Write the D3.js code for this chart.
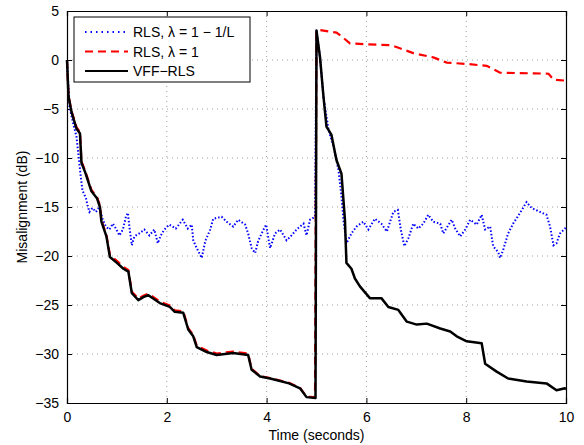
<!DOCTYPE html>
<html>
<head>
<meta charset="utf-8">
<script src="https://cdn.jsdelivr.net/npm/d3@7"></script>
<style>
  body { margin: 0; background: #fff; }
  text { font-family: "Liberation Sans", Arial, sans-serif; }
</style>
</head>
<body>
<div id="chart"></div>
<script>
// data: [time (s), misalignment (dB)]
var rlsForget = [[0,0],[0.05,-4.8],[0.13,-6.6],[0.19,-7.8],[0.28,-12.1],[0.31,-13.3],[0.38,-14.1],[0.41,-14.8],
  [0.45,-15.5],[0.51,-15.1],[0.58,-15.5],[0.65,-15.0],[0.71,-16.2],[0.78,-17.0],[0.85,-17.3],[0.92,-16.7],
  [0.98,-17.2],[1.05,-17.9],[1.12,-17.3],[1.18,-16.0],[1.22,-15.6],[1.25,-17.0],[1.30,-18.9],[1.35,-18.0],
  [1.45,-17.7],[1.55,-17.3],[1.65,-17.9],[1.75,-17.3],[1.82,-18.7],[1.88,-17.9],[1.95,-17.3],[2.05,-16.8],
  [2.18,-17.2],[2.32,-16.3],[2.42,-17.2],[2.50,-16.8],[2.53,-18.4],[2.60,-19.2],[2.70,-20.2],[2.77,-18.5],
  [2.87,-17.3],[2.93,-16.2],[3.10,-16.0],[3.20,-16.5],[3.33,-17.0],[3.43,-16.3],[3.57,-16.8],[3.63,-17.7],
  [3.70,-19.2],[3.77,-19.7],[3.83,-18.5],[3.90,-17.7],[3.99,-16.8],[4.07,-19.2],[4.17,-17.7],[4.27,-17.3],
  [4.40,-18.4],[4.50,-17.9],[4.60,-17.3],[4.74,-16.7],[4.80,-17.9],[4.87,-16.3],[4.97,-16.0],[5.0,3.0],
  [5.07,0.3],[5.14,-3.8],[5.24,-7.1],[5.34,-8.8],[5.44,-11.2],[5.50,-13.9],[5.54,-16.3],[5.60,-18.7],
  [5.70,-17.7],[5.80,-17.0],[5.94,-16.5],[6.04,-17.3],[6.17,-16.2],[6.30,-16.7],[6.41,-17.5],[6.54,-15.5],
  [6.63,-15.3],[6.69,-17.3],[6.76,-19.0],[6.84,-18.2],[6.94,-16.7],[7.04,-17.2],[7.14,-16.7],[7.24,-15.8],
  [7.34,-16.5],[7.48,-16.7],[7.54,-17.7],[7.71,-16.3],[7.78,-17.2],[7.88,-18.0],[7.98,-17.3],[8.08,-16.3],
  [8.21,-16.8],[8.31,-15.8],[8.38,-17.3],[8.48,-17.0],[8.54,-19.0],[8.64,-19.6],[8.68,-20.2],[8.74,-19.4],
  [8.84,-17.7],[8.94,-16.7],[9.08,-15.6],[9.21,-14.5],[9.31,-15.1],[9.48,-15.5],[9.61,-15.8],[9.68,-17.0],
  [9.75,-18.9],[9.81,-18.7],[9.88,-17.7],[9.98,-17.2],[10,-17.0]];

var rlsOne = [[0,0],[0.03,-3.6],[0.09,-5.2],[0.19,-6.85],[0.26,-7.35],[0.29,-10.35],[0.36,-11.25],[0.49,-13.25],
  [0.6,-13.95],[0.66,-14.85],[0.69,-16.35],[0.79,-17.85],[0.86,-19.9],[1.0,-20.5],[1.13,-21.1],[1.23,-21.45],
  [1.3,-23.65],[1.43,-24.35],[1.53,-24.05],[1.63,-23.85],[1.86,-24.65],[2.06,-25.05],[2.16,-25.55],[2.33,-25.65],
  [2.43,-27.35],[2.53,-28.05],[2.6,-29.15],[2.8,-29.65],[3.0,-29.95],[3.33,-29.75],[3.63,-29.95],[3.7,-31.5],
  [3.87,-32.25],[4.07,-32.45],[4.23,-32.65],[4.45,-32.95],[4.67,-33.45],[4.8,-34.35],[4.97,-34.4],[5.0,3.0],
  [5.07,3.06],[5.25,2.9],[5.4,2.8],[5.47,2.55],[5.67,1.7],[6.0,1.6],[6.5,1.5],[6.67,1.2],[6.94,0.7],
  [7.34,0.27],[7.61,-0.27],[8.01,-0.4],[8.41,-0.6],[8.68,-1.3],[9.35,-1.36],[9.65,-1.4],[9.75,-2.0],
  [9.98,-2.1],[10,-2.2]];

var vffRls = [[0,0],[0.03,-3.7],[0.09,-5.3],[0.19,-7.0],[0.26,-7.5],[0.29,-10.5],[0.36,-11.4],[0.49,-13.4],
  [0.6,-14.1],[0.66,-15.0],[0.69,-16.5],[0.79,-18.0],[0.86,-20.1],[1.0,-20.7],[1.13,-21.3],[1.23,-21.6],
  [1.3,-23.8],[1.43,-24.5],[1.53,-24.2],[1.63,-24.0],[1.86,-24.8],[2.06,-25.2],[2.16,-25.7],[2.33,-25.8],
  [2.43,-27.5],[2.53,-28.2],[2.6,-29.3],[2.8,-29.8],[3.0,-30.1],[3.33,-29.9],[3.63,-30.1],[3.7,-31.6],
  [3.87,-32.3],[4.07,-32.5],[4.23,-32.7],[4.45,-33.0],[4.67,-33.5],[4.8,-34.4],[4.98,-34.5],[5.0,3.0],
  [5.07,0.3],[5.14,-3.75],[5.2,-6.8],[5.3,-7.65],[5.4,-10.2],[5.5,-11.6],[5.57,-16.3],[5.6,-20.7],
  [5.7,-21.3],[5.77,-22.3],[5.87,-23.1],[6.07,-24.3],[6.3,-24.3],[6.44,-25.2],[6.64,-25.5],[6.81,-26.7],
  [7.01,-27.0],[7.21,-26.9],[7.48,-27.4],[7.68,-27.7],[7.81,-28.2],[8.01,-28.7],[8.31,-28.9],[8.38,-31.0],
  [8.61,-31.8],[8.84,-32.5],[9.21,-32.8],[9.61,-33.0],[9.81,-33.7],[9.98,-33.5],[10,-33.6]];

var xTicks = [0, 2, 4, 6, 8, 10];
var yTicks = [5, 0, -5, -10, -15, -20, -25, -30, -35];
var legendLabels = ["RLS, \u03bb = 1 \u2212 1/L", "RLS, \u03bb = 1", "VFF\u2212RLS"];

var svgWidth = 584;
var svgHeight = 445;
var margin = { top: 11, right: 18, bottom: 42, left: 67 };
var width = svgWidth - margin.left - margin.right;
var height = svgHeight - margin.top - margin.bottom;

var svg = d3.select("#chart").append("svg")
  .attr("width", svgWidth)
  .attr("height", svgHeight)
  .style("background", "#fff");

var chartGroup = svg.append("g")
  .attr("transform", `translate(${margin.left}, ${margin.top})`);

var x = d3.scaleLinear().domain([0, 10]).range([0, width]);
var y = d3.scaleLinear().domain([-35, 5]).range([height, 0]);

// dotted grid
chartGroup.append("g").selectAll("line.vg")
  .data(xTicks.slice(1, -1)).enter().append("line")
  .attr("x1", d => x(d)).attr("x2", d => x(d))
  .attr("y1", 0).attr("y2", height)
  .attr("stroke", "#888").attr("stroke-width", 0.8)
  .attr("stroke-dasharray", "1,4");
chartGroup.append("g").selectAll("line.hg")
  .data(yTicks.slice(1, -1)).enter().append("line")
  .attr("x1", 0).attr("x2", width)
  .attr("y1", d => y(d)).attr("y2", d => y(d))
  .attr("stroke", "#888").attr("stroke-width", 0.8)
  .attr("stroke-dasharray", "1,4");

// axes, ticks pointing inward
var bottomAxis = d3.axisBottom(x).tickValues(xTicks).tickSize(-5).tickPadding(9).tickFormat(d3.format("d"));
var leftAxis = d3.axisLeft(y).tickValues(yTicks).tickSize(-5).tickPadding(8)
  .tickFormat(d => d < 0 ? "\u2212" + Math.abs(d) : d);
var topAxis = d3.axisTop(x).tickValues(xTicks).tickSize(-5).tickFormat("");
var rightAxis = d3.axisRight(y).tickValues(yTicks).tickSize(-5).tickFormat("");

chartGroup.append("g").attr("transform", `translate(0, ${height})`).call(bottomAxis);
chartGroup.append("g").call(leftAxis);
chartGroup.append("g").call(topAxis);
chartGroup.append("g").attr("transform", `translate(${width}, 0)`).call(rightAxis);

chartGroup.selectAll(".domain").attr("stroke", "#000").attr("stroke-width", 1.2);
chartGroup.selectAll(".tick line").attr("stroke", "#000");
chartGroup.selectAll(".tick text").attr("font-size", 14).attr("fill", "#000")
  .attr("font-family", "Liberation Sans, Arial, sans-serif");

var line = d3.line().x(d => x(d[0])).y(d => y(d[1]));

chartGroup.append("path").datum(rlsForget)
  .attr("d", line).attr("fill", "none")
  .attr("stroke", "#0000ff").attr("stroke-width", 2)
  .attr("stroke-dasharray", "1.5,2");

chartGroup.append("path").datum(rlsOne)
  .attr("d", line).attr("fill", "none")
  .attr("stroke", "#ff0000").attr("stroke-width", 2.2)
  .attr("stroke-dasharray", "8,5");

chartGroup.append("path").datum(vffRls)
  .attr("d", line).attr("fill", "none")
  .attr("stroke", "#000").attr("stroke-width", 2.5)
  .attr("stroke-linejoin", "round");

// axis labels
svg.append("text")
  .attr("x", margin.left + width / 2).attr("y", 440)
  .attr("text-anchor", "middle").attr("font-size", 14)
  .text("Time (seconds)");
svg.append("text")
  .attr("transform", `translate(27, ${margin.top + height / 2}) rotate(-90)`)
  .attr("text-anchor", "middle").attr("font-size", 14)
  .text("Misalignment (dB)");

// legend
var legend = svg.append("g").attr("transform", "translate(74, 17)");
legend.append("rect")
  .attr("width", 176).attr("height", 65)
  .attr("fill", "#fff").attr("stroke", "#000").attr("stroke-width", 1);

var legendStyles = [
  { color: "#0000ff", dash: "1.5,4", w: 1.8 },
  { color: "#ff0000", dash: "8,5", w: 2 },
  { color: "#000", dash: null, w: 2 }
];
legendLabels.forEach(function(label, i) {
  var yy = 15 + i * 19.5;
  legend.append("line")
    .attr("x1", 11).attr("x2", 54).attr("y1", yy).attr("y2", yy)
    .attr("stroke", legendStyles[i].color)
    .attr("stroke-width", legendStyles[i].w)
    .attr("stroke-dasharray", legendStyles[i].dash);
  legend.append("text")
    .attr("x", 59).attr("y", yy + 5)
    .attr("font-size", 14)
    .text(label);
});
</script>
</body>
</html>
